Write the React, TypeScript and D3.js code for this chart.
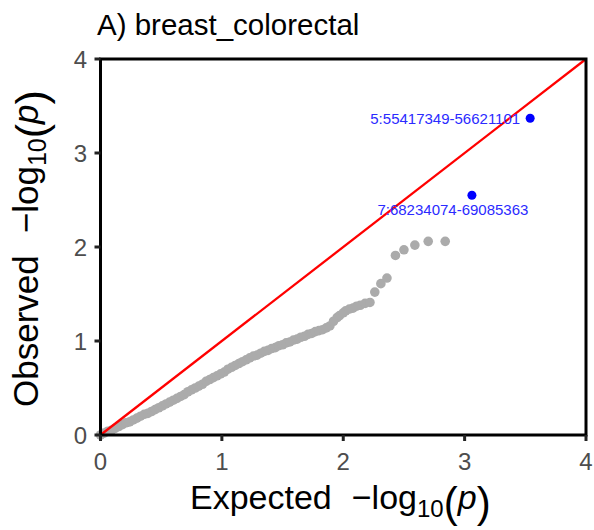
import React from "react";
import * as d3 from "d3";

// Gray QQ points (expected, observed)
const expectedGray = [
  0.0, 0.03, 0.06, 0.09, 0.12, 0.15, 0.18, 0.21, 0.24, 0.27, 0.3, 0.33, 0.36, 0.39, 0.42, 0.45, 0.48,
  0.51, 0.54, 0.57, 0.6, 0.63, 0.66, 0.69, 0.72, 0.75, 0.78, 0.81, 0.84, 0.87, 0.9, 0.93, 0.96, 0.99,
  1.02, 1.05, 1.08, 1.11, 1.14, 1.17, 1.2, 1.23, 1.26, 1.29, 1.32, 1.35, 1.38, 1.41, 1.44, 1.47, 1.5,
  1.53, 1.56, 1.59, 1.62, 1.65, 1.68, 1.71, 1.74, 1.77, 1.8, 1.83, 1.86, 1.89, 1.92, 1.95, 1.97, 2.0,
  2.02, 2.05, 2.08, 2.11, 2.14, 2.18, 2.22, 2.26, 2.31, 2.36, 2.43, 2.5, 2.59, 2.7, 2.84,
];
const observedGray = [
  0.0, 0.02, 0.04, 0.05, 0.07, 0.09, 0.11, 0.13, 0.14, 0.16, 0.18, 0.2, 0.22, 0.23, 0.25, 0.27, 0.29,
  0.31, 0.33, 0.35, 0.37, 0.39, 0.41, 0.43, 0.46, 0.48, 0.5, 0.52, 0.54, 0.57, 0.59, 0.61, 0.63, 0.65,
  0.67, 0.7, 0.72, 0.74, 0.76, 0.78, 0.8, 0.82, 0.84, 0.85, 0.87, 0.89, 0.9, 0.92, 0.93, 0.95, 0.96,
  0.98, 0.99, 1.01, 1.02, 1.04, 1.05, 1.07, 1.08, 1.1, 1.11, 1.12, 1.14, 1.16, 1.21, 1.25, 1.27, 1.3,
  1.32, 1.34, 1.35, 1.37, 1.38, 1.4, 1.41, 1.52, 1.61, 1.67, 1.91, 1.97, 2.02, 2.06, 2.06,
];

// Highlighted loci
const hitLabels = ["5:55417349-56621101", "7:68234074-69085363"];
const hitExpected = [3.54, 3.06];
const hitObserved = [3.37, 2.55];

const tickValues = [0, 1, 2, 3, 4];
const titleText = "A) breast_colorectal";

const FONT = "'Liberation Sans', Arial, Helvetica, sans-serif";

export default function App() {
  const width = 594;
  const height = 530;
  const left = 100.5;
  const right = 586;
  const top = 59;
  const bottom = 435;

  const x = d3.scaleLinear().domain([0, 4]).range([left, right]);
  const y = d3.scaleLinear().domain([0, 4]).range([bottom, top]);

  const lineGen = d3
    .line<number>()
    .x((d) => x(d))
    .y((d) => y(d));

  return (
    <svg
      width={width}
      height={height}
      style={{ position: "absolute", left: 0, top: 0, background: "#fff" }}
      fontFamily={FONT}
    >
      <rect x={0} y={0} width={width} height={height} fill="#fff" />
      <text x={97} y={35} fontSize={29.5} fill="#000">
        {titleText}
      </text>

      {/* gray points */}
      <g fill="#ABABAB">
        {expectedGray.map((e, i) => (
          <circle key={i} cx={x(e)} cy={y(observedGray[i])} r={4.8} />
        ))}
      </g>

      {/* diagonal */}
      <path d={lineGen([0, 4]) || ""} stroke="#FF0000" strokeWidth={2.3} fill="none" />

      {/* highlighted points */}
      <g fill="#0000FF">
        {hitExpected.map((e, i) => (
          <circle key={i} cx={x(e)} cy={y(hitObserved[i])} r={4.5} />
        ))}
      </g>
      <text
        x={x(hitExpected[0]) - 10}
        y={y(hitObserved[0]) + 6}
        fontSize={15}
        fill="#2B2BFF"
        textAnchor="end"
      >
        {hitLabels[0]}
      </text>
      <text
        x={x(hitExpected[1]) - 19}
        y={y(hitObserved[1]) + 20}
        fontSize={15}
        fill="#2B2BFF"
        textAnchor="middle"
      >
        {hitLabels[1]}
      </text>

      {/* panel border */}
      <rect
        x={left}
        y={top}
        width={right - left}
        height={bottom - top}
        fill="none"
        stroke="#000"
        strokeWidth={3}
      />

      {/* ticks */}
      {tickValues.map((t) => (
        <g key={"x" + t}>
          <line x1={x(t)} x2={x(t)} y1={bottom} y2={bottom + 6} stroke="#222" strokeWidth={3} />
          <text x={x(t)} y={470} fontSize={24} fill="#4D4D4D" textAnchor="middle">
            {t}
          </text>
        </g>
      ))}
      {tickValues.map((t) => (
        <g key={"y" + t}>
          <line x1={left - 6} x2={left} y1={y(t)} y2={y(t)} stroke="#222" strokeWidth={3} />
          <text x={87} y={y(t) + 9} fontSize={24} fill="#4D4D4D" textAnchor="end">
            {t}
          </text>
        </g>
      ))}

      {/* x axis title */}
      <text x={190} y={509} fontSize={34} fill="#000">
        <tspan>Expected</tspan>
        <tspan dx={20}>−log</tspan>
        <tspan fontSize={24} dy={8}>10</tspan>
        <tspan fontSize={42}>(</tspan>
        <tspan fontStyle="italic" dy={-8}>p</tspan>
        <tspan fontSize={42} dy={8}>)</tspan>
      </text>

      {/* y axis title */}
      <text transform="translate(38,407) rotate(-90)" fontSize={35} fill="#000">
        <tspan>Observed</tspan>
        <tspan dx={22}>−log</tspan>
        <tspan fontSize={25} dy={8}>10</tspan>
        <tspan fontSize={43}>(</tspan>
        <tspan fontStyle="italic" dy={-8}>p</tspan>
        <tspan fontSize={43} dy={8}>)</tspan>
      </text>
    </svg>
  );
}
